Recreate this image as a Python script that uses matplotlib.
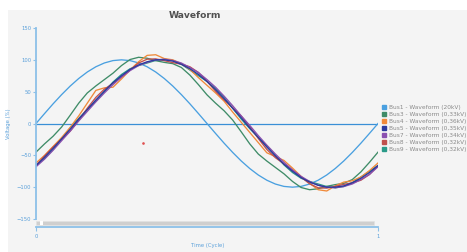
import matplotlib
matplotlib.use("Agg")
import matplotlib.pyplot as plt
from matplotlib.patches import Rectangle
from matplotlib.lines import Line2D

W, H = 467, 252

# ---- data ----
t = [i / 40 for i in range(41)]

bus1 = [0, 15.6, 30.9, 45.4, 58.8, 70.7, 80.9, 89.1, 95.1, 98.8, 100, 98.8, 95.1, 89.1,
        80.9, 70.7, 58.8, 45.4, 30.9, 15.6, 0, -15.6, -30.9, -45.4, -58.8, -70.7, -80.9,
        -89.1, -95.1, -98.8, -100, -98.8, -95.1, -89.1, -80.9, -70.7, -58.8, -45.4, -30.9,
        -15.6, 0]
bus3 = [-45, -32, -20, -5.5, 13, 32, 48, 59, 69, 79, 91, 100.5, 104, 102.5, 98.7, 96, 94,
        88, 76, 61, 45, 32, 20, 5.5, -13, -32, -48, -59, -69, -79, -91, -100.5, -104,
        -102.5, -98.7, -96, -94, -88, -76, -61, -45]
bus4 = [-62, -50, -36, -22, -6, 12, 32, 52, 56, 57, 70, 84, 97, 107, 108, 102, 100, 94, 85,
        72, 60, 48, 35, 18, 2, -14, -30, -46, -52, -58, -70, -83, -94, -104, -106, -98,
        -92, -90, -84, -74, -62]
bus5 = [-66, -53, -39, -24, -9, 7, 22, 37, 51, 64, 75, 85, 92, 97, 100, 100, 98, 93, 86,
        77, 66, 53, 39, 24, 9, -7, -22, -37, -51, -64, -75, -85, -92, -97, -100, -100, -98,
        -93, -86, -77, -66]
bus7 = [-68, -56, -42, -27, -12, 4, 19, 34, 48, 61, 73, 83, 91, 96, 100, 101, 99, 95, 88,
        80, 69, 57, 43, 28, 12, -3, -19, -34, -48, -61, -73, -83, -91, -97, -100, -101,
        -99, -95, -88, -80, -68]
bus8 = [-66, -51, -37, -25, -12, 5, 24, 41, 54, 63, 73, 84, 95, 101, 101.5, 98.7, 95.6,
        93.1, 89.1, 80.1, 66.4, 50.8, 37.1, 25, 11.8, -4.9, -23.5, -40.8, -53.7, -63.4,
        -73.2, -84.2, -94.7, -101, -101.5, -98.7, -95.6, -93.1, -89.1, -80.1, -66.4]
bus9 = [-66, -55, -41, -24, -7, 8, 22, 35, 50, 65, 77, 86, 91, 95, 99, 101, 99, 93, 84,
        75, 66, 55, 41, 24, 7, -8, -22, -35, -50, -65, -77, -86, -91, -95, -99, -101, -99,
        -93, -84, -75, -66]

labels = ["Bus1 - Waveform (20kV)", "Bus3 - Waveform (0,33kV)", "Bus4 - Waveform (0,36kV)",
          "Bus5 - Waveform (0,35kV)", "Bus7 - Waveform (0,34kV)", "Bus8 - Waveform (0,32kV)",
          "Bus9 - Waveform (0,32kV)"]
colors = ["#4aa0e0", "#3f8c68", "#f08a3a", "#2b3a9e", "#8a4fb0", "#c0504d", "#2a9a88"]
series = [bus1, bus3, bus4, bus5, bus7, bus8, bus9]

yticks = [-150, -100, -50, 0, 50, 100, 150]
xticks = [0, 1]
stray_t, stray_v = [0.313], [-30]

# ---- figure ----
fig = plt.figure(figsize=(W / 100, H / 100), dpi=100, facecolor="white")
fig.patches.append(Rectangle((8 / W, 0), 1 - 8 / W, 1 - 10 / H, transform=fig.transFigure,
                             facecolor="#f4f4f4", edgecolor="none", zorder=-10))

def fy(y):
    return 1 - y / H

ax = fig.add_axes([36 / W, fy(219), 342 / W, (219 - 28) / H])
ax.set_zorder(2)
ax.set_facecolor("none")
ax.set_xlim(0, 1)
ax.set_ylim(-150, 150)

axis_blue = "#8cc0e8"
tick_blue = "#5aa0da"

ax.axhline(0, color="#3a8fd6", lw=0.9, zorder=1)
order = [0, 1, 6, 2, 5, 4, 3]
for i in order:
    ax.plot(t, series[i], color=colors[i], lw=0.95, zorder=2, solid_joinstyle="round")
ax.scatter(stray_t, stray_v, s=0.8, color="#e05050", zorder=3)

for s in ["top", "right", "bottom"]:
    ax.spines[s].set_visible(False)
ax.spines["left"].set_color(axis_blue)
ax.spines["left"].set_linewidth(1.3)
ax.set_yticks(yticks)
ax.set_xticks([])
ax.tick_params(axis="y", colors=axis_blue, labelcolor=tick_blue, labelsize=3.8,
               length=2.5, width=0.8, pad=1)
ax.set_ylabel("Voltage (%)", color=tick_blue, fontsize=3.8, labelpad=4)

# x axis below scrollbar
axx = fig.add_axes([36 / W, fy(227), 342 / W, 0.001])
axx.set_zorder(2)
axx.set_facecolor("none")
axx.set_xlim(0, 1)
for s in ["top", "right", "left"]:
    axx.spines[s].set_visible(False)
axx.spines["bottom"].set_color(axis_blue)
axx.spines["bottom"].set_linewidth(1.3)
axx.set_yticks([])
axx.set_xticks(xticks)
axx.set_xticklabels([str(v) for v in xticks])
axx.tick_params(axis="x", colors=axis_blue, labelcolor=tick_blue, labelsize=3.8,
                length=3, width=0.8, pad=2)
fig.text(208 / W, fy(245), "Time (Cycle)", color=tick_blue, fontsize=3.8,
         ha="center", va="center")

# scrollbar
fig.patches.append(Rectangle((36 / W, fy(225)), (374 - 36) / W, 4.5 / H,
                             transform=fig.transFigure, facecolor="#cfcfcf",
                             edgecolor="#e2e2e2", lw=0.4, zorder=-5))
fig.patches.append(Rectangle((40 / W, fy(224.5)), 3 / W, 3.5 / H,
                             transform=fig.transFigure, facecolor="#ffffff",
                             edgecolor="none", zorder=-4))

# title
fig.text(195 / W, fy(16), "Waveform", color="#505050", fontsize=6.6,
         fontweight="semibold", ha="center", va="center")

# legend
handles = [Line2D([], [], marker="s", linestyle="", color=c, markersize=3.2) for c in colors]
fig.legend(handles, labels, loc="upper left", bbox_to_anchor=(381 / W, fy(105)),
           frameon=False, fontsize=4.2, labelcolor="#8a8a8a", handletextpad=0.45,
           labelspacing=0.32, handlelength=1.0, borderaxespad=0, borderpad=0)

fig.savefig("out.png", dpi=100, facecolor="white")
